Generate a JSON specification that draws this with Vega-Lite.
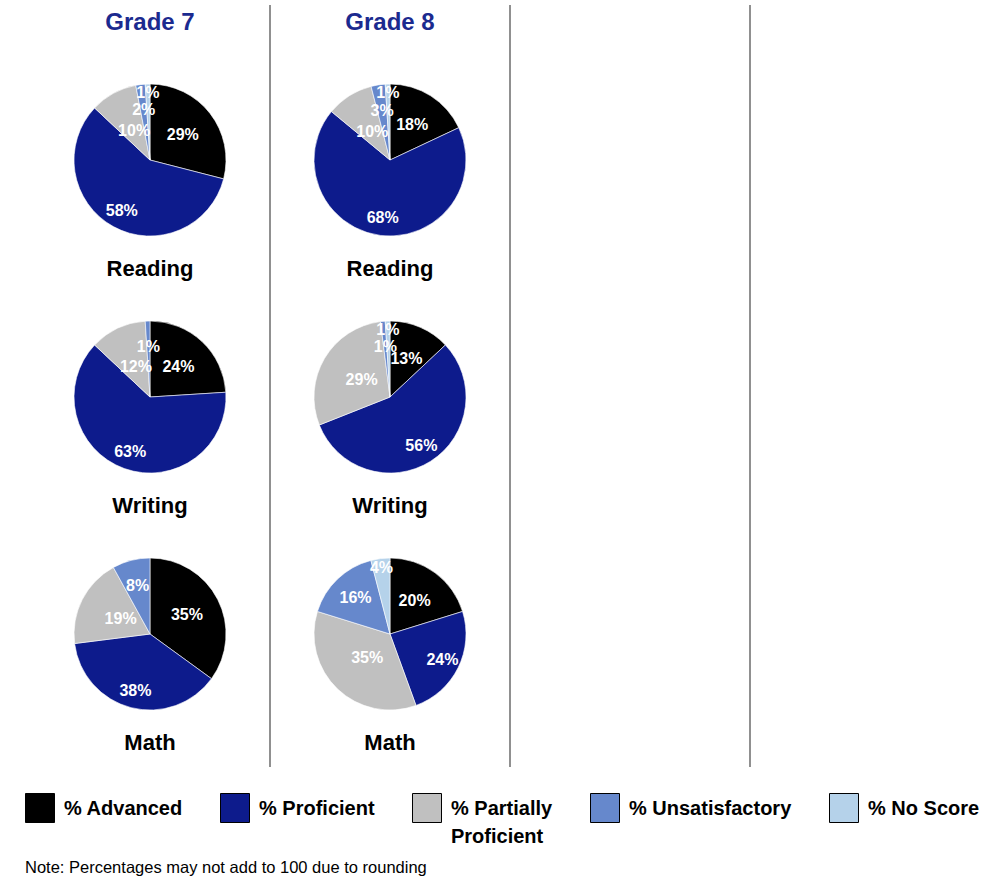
{
  "$schema": "https://vega.github.io/schema/vega-lite/v6.json",
  "autosize": "none",
  "width": 953,
  "height": 762,
  "padding": {"left": 30, "top": 5, "right": 0, "bottom": 112},
  "background": "#ffffff",
  "config": {"view": {"stroke": null}, "font": "'Liberation Sans', Arial, sans-serif"},
  "title": {
    "text": "Note: Percentages may not add to 100 due to rounding",
    "orient": "bottom",
    "anchor": "start",
    "frame": "group",
    "fontSize": 16.5,
    "fontWeight": "normal",
    "color": "#000000",
    "font": "'Liberation Sans', Arial, sans-serif",
    "offset": 13,
    "dx": -5
  },
  "datasets": {
    "scores": [
      {"grade": "Grade 7", "subject": "Reading", "level": "% Advanced", "pct": 0.29},
      {"grade": "Grade 7", "subject": "Reading", "level": "% Proficient", "pct": 0.58},
      {"grade": "Grade 7", "subject": "Reading", "level": "% Partially Proficient", "pct": 0.10},
      {"grade": "Grade 7", "subject": "Reading", "level": "% Unsatisfactory", "pct": 0.02},
      {"grade": "Grade 7", "subject": "Reading", "level": "% No Score", "pct": 0.01},
      {"grade": "Grade 8", "subject": "Reading", "level": "% Advanced", "pct": 0.18},
      {"grade": "Grade 8", "subject": "Reading", "level": "% Proficient", "pct": 0.68},
      {"grade": "Grade 8", "subject": "Reading", "level": "% Partially Proficient", "pct": 0.10},
      {"grade": "Grade 8", "subject": "Reading", "level": "% Unsatisfactory", "pct": 0.03},
      {"grade": "Grade 8", "subject": "Reading", "level": "% No Score", "pct": 0.01},
      {"grade": "Grade 7", "subject": "Writing", "level": "% Advanced", "pct": 0.24},
      {"grade": "Grade 7", "subject": "Writing", "level": "% Proficient", "pct": 0.63},
      {"grade": "Grade 7", "subject": "Writing", "level": "% Partially Proficient", "pct": 0.12},
      {"grade": "Grade 7", "subject": "Writing", "level": "% Unsatisfactory", "pct": 0.01},
      {"grade": "Grade 8", "subject": "Writing", "level": "% Advanced", "pct": 0.13},
      {"grade": "Grade 8", "subject": "Writing", "level": "% Proficient", "pct": 0.56},
      {"grade": "Grade 8", "subject": "Writing", "level": "% Partially Proficient", "pct": 0.29},
      {"grade": "Grade 8", "subject": "Writing", "level": "% Unsatisfactory", "pct": 0.01},
      {"grade": "Grade 8", "subject": "Writing", "level": "% No Score", "pct": 0.01},
      {"grade": "Grade 7", "subject": "Math", "level": "% Advanced", "pct": 0.35},
      {"grade": "Grade 7", "subject": "Math", "level": "% Proficient", "pct": 0.38},
      {"grade": "Grade 7", "subject": "Math", "level": "% Partially Proficient", "pct": 0.19},
      {"grade": "Grade 7", "subject": "Math", "level": "% Unsatisfactory", "pct": 0.08},
      {"grade": "Grade 8", "subject": "Math", "level": "% Advanced", "pct": 0.20},
      {"grade": "Grade 8", "subject": "Math", "level": "% Proficient", "pct": 0.24},
      {"grade": "Grade 8", "subject": "Math", "level": "% Partially Proficient", "pct": 0.35},
      {"grade": "Grade 8", "subject": "Math", "level": "% Unsatisfactory", "pct": 0.16},
      {"grade": "Grade 8", "subject": "Math", "level": "% No Score", "pct": 0.04}
    ],
    "dividers": [
      {"grade": "Grade 8"},
      {"grade": "Grade 9"},
      {"grade": "Grade 10"}
    ]
  },
  "data": {"name": "scores"},
  "layer": [
    {
      "data": {"name": "dividers"},
      "mark": {"type": "rule", "color": "#6b6b6b", "strokeWidth": 1.5},
      "encoding": {
        "x": {"field": "grade", "type": "nominal", "bandPosition": 0}
      }
    },
    {
      "transform": [
        {"stack": "pct", "groupby": ["grade", "subject"], "offset": "normalize", "as": ["s0", "s1"]}
      ],
      "mark": {"type": "arc", "outerRadius": 76, "stroke": "#ffffff", "strokeWidth": 0.6},
      "encoding": {
        "x": {
          "field": "grade",
          "type": "nominal",
          "scale": {"type": "band", "domain": ["Grade 7", "Grade 8", "Grade 9", "Grade 10"], "range": [0, 960], "paddingInner": 0, "paddingOuter": 0},
          "axis": {
            "orient": "top",
            "title": null,
            "domain": false,
            "ticks": false,
            "grid": false,
            "bandPosition": 0.5,
            "labelAngle": 0,
            "labelAlign": "center",
            "labelFont": "'Liberation Sans', Arial, sans-serif",
            "labelFontSize": 24,
            "labelFontWeight": "bold",
            "labelColor": "#1b2a8f",
            "labelPadding": 0,
            "labelBaseline": "middle",
            "offset": -17,
            "labelExpr": "indexof(['Grade 9', 'Grade 10'], datum.value) >= 0 ? '' : datum.label"
          }
        },
        "y": {
          "field": "subject",
          "type": "nominal",
          "scale": {"type": "band", "domain": ["Reading", "Writing", "Math"], "paddingInner": 0, "paddingOuter": 0.1076, "align": 0.716},
          "axis": null
        },
        "theta": {"field": "s0", "type": "quantitative", "stack": null, "scale": {"domain": [0, 1], "range": [0, 6.283185307179586]}},
        "theta2": {"field": "s1"},
        "color": {
          "field": "level",
          "type": "nominal",
          "scale": {
            "domain": ["% Advanced", "% Proficient", "% Partially Proficient", "% Unsatisfactory", "% No Score"],
            "range": ["#000000", "#0d1b8c", "#c0c0c0", "#6688cc", "#b5d2ea"]
          },
          "legend": {
            "orient": "none",
            "legendX": -5,
            "legendY": 788,
            "direction": "horizontal",
            "title": null,
            "symbolType": "square",
            "symbolSize": 841,
            "symbolStrokeColor": "#000000",
            "symbolStrokeWidth": 1,
            "labelFont": "'Liberation Sans', Arial, sans-serif",
            "labelFontSize": 20,
            "labelFontWeight": "bold",
            "labelColor": "#000000",
            "labelOffset": 9,
            "labelLimit": 300,
            "labelBaseline": "top",
            "columnPadding": 35,
            "labelExpr": "datum.label == '% Partially Proficient' ? ['% Partially', '   Proficient'] : [datum.label, ' ']",
            "encode": {"labels": {"update": {"dy": {"value": -9}, "lineHeight": {"value": 28}}}}
          }
        }
      }
    },
    {
      "transform": [
        {"stack": "pct", "groupby": ["grade", "subject"], "offset": "normalize", "as": ["s0", "s1"]},
        {"fold": ["s0", "s1"], "as": ["edge", "angle"]},
        {"aggregate": [{"op": "mean", "field": "angle", "as": "mid"}], "groupby": ["grade", "subject", "level", "pct"]}
      ],
      "mark": {"type": "text", "color": "#ffffff", "fontSize": 16, "fontWeight": "bold", "align": "center", "baseline": "middle"},
      "encoding": {
        "x": {"field": "grade", "type": "nominal"},
        "y": {"field": "subject", "type": "nominal", "axis": null},
        "theta": {"field": "mid", "type": "quantitative", "stack": null, "scale": {"domain": [0, 1], "range": [0, 6.283185307179586]}},
        "radius": {
          "field": "level",
          "type": "nominal",
          "scale": {"type": "point", "domain": ["% Partially Proficient", "% Advanced", "% Unsatisfactory", "% Proficient", "% No Score"], "range": [33, 67], "padding": 0}
        },
        "text": {"field": "pct", "type": "quantitative", "format": ".0%"}
      }
    },
    {
      "transform": [
        {"aggregate": [{"op": "count", "as": "n"}], "groupby": ["grade", "subject"]}
      ],
      "mark": {"type": "text", "color": "#000000", "fontSize": 22, "fontWeight": "bold", "align": "center", "baseline": "middle"},
      "encoding": {
        "x": {"field": "grade", "type": "nominal"},
        "y": {"field": "subject", "type": "nominal", "bandPosition": 0.96, "axis": null},
        "text": {"field": "subject", "type": "nominal"}
      }
    }
  ]
}
